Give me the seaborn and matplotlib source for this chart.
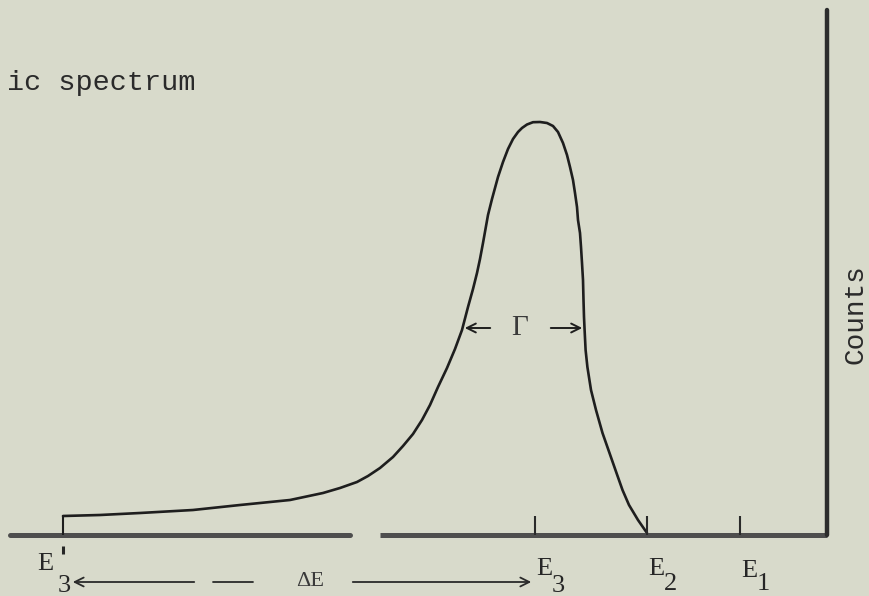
import matplotlib
matplotlib.use("Agg")
import matplotlib.pyplot as plt
import seaborn as sns
import pandas as pd

# ---- data (energy in channel units, counts in arbitrary units) ----
energy = [63, 100, 140, 193, 240, 290, 323, 340, 357, 368, 380, 393, 403, 413,
          422, 430, 438, 447, 455, 462, 468, 473, 477, 480, 483, 488, 492, 495,
          498, 503, 508, 513, 518, 522, 527, 533, 540, 547, 553, 558, 563, 567,
          570, 573, 575, 577, 578, 580, 581, 582, 583, 583.5, 584, 584.6, 585.6,
          587.4, 591, 596, 602.5, 609.5, 616.5, 622.5, 629, 638, 647]
counts = [19, 20, 22, 25, 30, 35, 42, 47, 53, 59, 67, 78, 89, 101,
          115, 130, 148, 167, 186, 205, 228, 246, 262, 276, 292, 320, 336, 347,
          358, 373, 386, 396, 403, 407, 410.5, 412.8, 413, 412, 409, 403, 392, 380,
          368, 355, 342, 328, 315, 302, 288, 272, 255, 235, 218, 205, 185,
          168, 145, 125, 102, 82, 62, 45, 30, 15, 2]

tick_energies = [63, 535, 647, 740]
tick_names = ["E", "E", "E", "E"]
tick_subs = ["3", "3", "2", "1"]
title_text = "ic spectrum"
ylabel_text = "Counts"
gamma_label = "Γ"
delta_label = "ΔE"

bg = "#d8dacb"
sns.set_theme(style="white")
plt.rcParams["font.family"] = ["Liberation Serif", "DejaVu Serif"]

fig = plt.figure(figsize=(8.69, 5.96), dpi=100, facecolor=bg)
ax = fig.add_axes([0, 0, 1, 1])
ax.set_facecolor(bg)
ax.set_xlim(0, 869)
ax.set_ylim(-61, 535)
ax.axis("off")

df = pd.DataFrame({"energy": energy, "counts": counts})
sns.lineplot(data=df, x="energy", y="counts", sort=False, color="#1e1e1e",
             lw=1.9, ax=ax)
for ln in ax.lines:
    ln.set_solid_joinstyle("round")
    ln.set_solid_capstyle("round")

# baseline (energy axis) with a gap, and counts axis
ax.plot([10, 350], [0, 0], color="#4e4e4e", lw=3.6, solid_capstyle="round")
ax.plot([380, 827], [0, 0], color="#4e4e4e", lw=3.6, solid_capstyle="butt")
ax.plot([827, 827], [0, 525], color="#2c2c2c", lw=3.2, solid_capstyle="round")

# tick marks
ax.vlines(tick_energies[0], 0, counts[0], color="#1e1e1e", lw=1.5)
ax.vlines(tick_energies[1:], 0, 19, color="#2a2a2a", lw=1.5)

# tick labels (E with subscripts)
name_base = [-35, -40, -40, -42]
sub_base = [-57, -57, -55, -55]
for e, n, s, nb, sb in zip(tick_energies, tick_names, tick_subs, name_base, sub_base):
    if e == tick_energies[0]:
        ax.text(e - 18, nb, n, fontsize=19, ha="center", va="baseline", color="#262626")
        ax.text(e + 1, sb, s, fontsize=19, ha="center", va="baseline", color="#262626")
        ax.vlines(e, -11, -19, color="#262626", lw=2.2)
    else:
        ax.text(e + 1, nb, n, fontsize=19, ha="left", va="baseline", color="#262626")
        ax.text(e + 17, sb, s, fontsize=19, ha="left", va="baseline", color="#262626")

# Gamma (width) arrows
gy = 207
ax.annotate("", xy=(462, gy), xytext=(493, gy),
            arrowprops=dict(arrowstyle="->", color="#1e1e1e", lw=1.4, mutation_scale=16))
ax.annotate("", xy=(585, gy), xytext=(548, gy),
            arrowprops=dict(arrowstyle="->", color="#1e1e1e", lw=1.4, mutation_scale=16))
ax.text(520, gy, gamma_label, fontsize=21, ha="center", va="center", color="#3a3a3a")

# Delta E arrow
dy = -47
ax.annotate("", xy=(70, dy), xytext=(197, dy),
            arrowprops=dict(arrowstyle="->", color="#2a2a2a", lw=1.3, mutation_scale=16))
ax.plot([213, 253], [dy, dy], color="#2a2a2a", lw=1.3)
ax.annotate("", xy=(534, dy), xytext=(350, dy),
            arrowprops=dict(arrowstyle="->", color="#2a2a2a", lw=1.3, mutation_scale=16))
ax.text(310, dy, delta_label, fontsize=16, ha="center", va="center", color="#3a3a3a")

# texts
ax.text(7, 445, title_text, fontsize=20.5, family=["Liberation Mono", "DejaVu Sans Mono"],
        ha="left", va="baseline", color="#2a2a2a")
ax.text(856, 221, ylabel_text, fontsize=20, family=["Liberation Mono", "DejaVu Sans Mono"],
        rotation=90, ha="center", va="center", color="#2a2a2a")

fig.savefig("out.png", dpi=100, facecolor=bg)
